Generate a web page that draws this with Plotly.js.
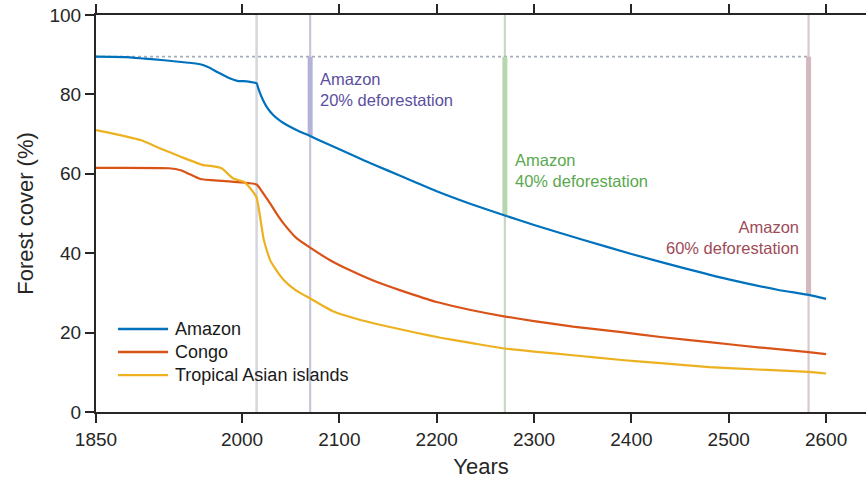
<!DOCTYPE html>
<html>
<head>
<meta charset="utf-8">
<script src="https://cdn.plot.ly/plotly-3.0.1.min.js"></script>
<style>html,body{margin:0;padding:0;background:#fff;}#chart{width:866px;height:479px;}</style>
</head>
<body>
<div id="chart"></div>
<script>
// ---- Data ----
const amazonYears = [1850,1880,1900,1920,1940,1957,1965,1975,1988,1995,2005,2012,2015,2017,2020,2025,2032,2040,2046,2058,2070,2085,2100,2125,2150,2175,2200,2235,2270,2300,2350,2400,2450,2500,2550,2582,2600];
const amazonValues = [89.5,89.4,89.0,88.6,88.1,87.6,86.9,85.6,84.0,83.4,83.3,83.0,82.8,81.3,79.4,77.0,74.8,73.2,72.3,70.8,69.5,67.8,66.2,63.4,60.8,58.2,55.6,52.4,49.5,47.1,43.4,39.8,36.5,33.4,30.8,29.5,28.5];

const congoYears = [1850,1925,1937,1947,1957,1980,2000,2015,2022,2029,2036,2043,2056,2070,2090,2111,2140,2162,2200,2235,2269,2300,2340,2390,2430,2480,2530,2582,2600];
const congoValues = [61.5,61.4,60.9,59.8,58.7,58.2,57.8,57.3,55.0,52.5,49.8,47.4,43.8,41.4,38.3,35.7,32.6,30.7,27.7,25.7,24.1,22.9,21.5,20.1,18.9,17.6,16.3,15.1,14.6];

const asiaYears = [1850,1870,1896,1916,1937,1960,1968,1979,1991,2002,2008,2015,2017,2019,2022,2026,2029,2035,2043,2055,2070,2094,2120,2145,2180,2204,2235,2269,2300,2340,2390,2430,2480,2530,2582,2600];
const asiaValues = [71.0,70.0,68.5,66.4,64.3,62.2,62.0,61.4,58.8,58.0,56.5,54.0,51.5,48.5,43.8,40.3,38.2,35.8,33.2,30.7,28.6,25.3,23.3,21.8,19.9,18.7,17.4,16.0,15.2,14.3,13.1,12.3,11.3,10.7,10.1,9.7];

const seriesNames = ["Amazon","Congo","Tropical Asian islands"];

const baselineLevel = 89.5;          // initial Amazon forest cover
const presentYear = 2015;
const deforestYears = [2070, 2270, 2582];
const deforestLevels = [69.5, 49.5, 29.5];
const deforestLabels = ["Amazon<br>20% deforestation","Amazon<br>40% deforestation","Amazon<br>60% deforestation"];

const xTickVals = [1850,2000,2100,2200,2300,2400,2500,2600];
const yTickVals = [0,20,40,60,80,100];

// ---- Styles ----
const FONT = "Liberation Sans, Arial, Helvetica, sans-serif";
const lineColors = ["#0072BD","#D95319","#EDB120"];
const thinColors = ["#c7c7da","#c6d9c5","#d9c9cd"];
const thickColors = ["#b3b3d9","#b6d6ae","#d3b9be"];
const textColors = ["#5b4f9e","#5aa84e","#9e4b58"];

const traces = [
  {x: amazonYears, y: amazonValues, name: seriesNames[0]},
  {x: congoYears, y: congoValues, name: seriesNames[1]},
  {x: asiaYears, y: asiaValues, name: seriesNames[2]}
].map((t,i) => Object.assign(t, {
  type: "scatter", mode: "lines", showlegend: false,
  line: {color: lineColors[i], width: 2.2, shape: "spline", smoothing: 0.5}
}));

const shapes = [];
// present-day line
shapes.push({type:"line", xref:"x", yref:"paper", x0:presentYear, x1:presentYear, y0:0, y1:1,
  line:{color:"#d6d6dd", width:2.5}, layer:"below"});
// baseline dotted line
shapes.push({type:"line", xref:"x", yref:"y", x0:amazonYears[0], x1:deforestYears[2], y0:baselineLevel, y1:baselineLevel,
  line:{color:"#a4acba", width:1.8, dash:"dot"}, layer:"below"});
deforestYears.forEach((yr,i) => {
  shapes.push({type:"line", xref:"x", yref:"paper", x0:yr, x1:yr, y0:0, y1:1,
    line:{color:thinColors[i], width:2.2}, layer:"below"});
  shapes.push({type:"line", xref:"x", yref:"y", x0:yr, x1:yr, y0:deforestLevels[i], y1:baselineLevel,
    line:{color:thickColors[i], width:5}, layer:"below"});
});

const annYs = [81.3, 60.9, 44.0];
const annotations = deforestYears.map((yr,i) => ({
  x: yr, y: annYs[i], xref:"x", yref:"y",
  text: deforestLabels[i], showarrow:false,
  xanchor: i===2 ? "right" : "left", yanchor:"middle",
  align: i===2 ? "right" : "left",
  xshift: i===2 ? -8 : 8,
  font:{family:FONT, size:16.5, color:textColors[i]}
}));

// ---- Legend (drawn in paper coordinates) ----
const legendYs = [0.209, 0.151, 0.093];
seriesNames.forEach((nm,i) => {
  shapes.push({type:"line", xref:"paper", yref:"paper", x0:0.0286, x1:0.0935, y0:legendYs[i], y1:legendYs[i],
    line:{color:lineColors[i], width:2.4}});
  annotations.push({x:0.1, y:legendYs[i], xref:"paper", yref:"paper", text:nm, showarrow:false,
    xanchor:"left", yanchor:"middle", font:{family:FONT, size:18, color:"#1a1a1a"}});
});

const layout = {
  width: 866, height: 479,
  margin: {l: 96, r: 0, t: 15, b: 67, pad: 0},
  paper_bgcolor: "#fff", plot_bgcolor: "#fff",
  font: {family: FONT, color: "#262626"},
  showlegend: false,
  xaxis: {
    range: [1850, 2641], tickvals: xTickVals, ticktext: xTickVals.map(String),
    showgrid:false, zeroline:false, showline:true, linecolor:"#262626", linewidth:2,
    mirror:"ticks", ticks:"outside", ticklen:9, tickwidth:2, tickcolor:"#262626",
    tickfont:{family:FONT, size:19, color:"#262626"},
    title:{text:"Years", font:{family:FONT, size:22, color:"#262626"}, standoff: 11}
  },
  yaxis: {
    range: [0, 100], tickvals: yTickVals, ticktext: yTickVals.map(String),
    showgrid:false, zeroline:false, showline:true, linecolor:"#262626", linewidth:2,
    mirror:false, ticks:"outside", ticklen:9, tickwidth:2, tickcolor:"#262626",
    tickfont:{family:FONT, size:19, color:"#262626"},
    title:{text:"Forest cover (%)", font:{family:FONT, size:22, color:"#262626"}, standoff: 10}
  },
  shapes: shapes,
  annotations: annotations
};

Plotly.newPlot("chart", traces, layout, {staticPlot:true, displayModeBar:false});
</script>
</body>
</html>
